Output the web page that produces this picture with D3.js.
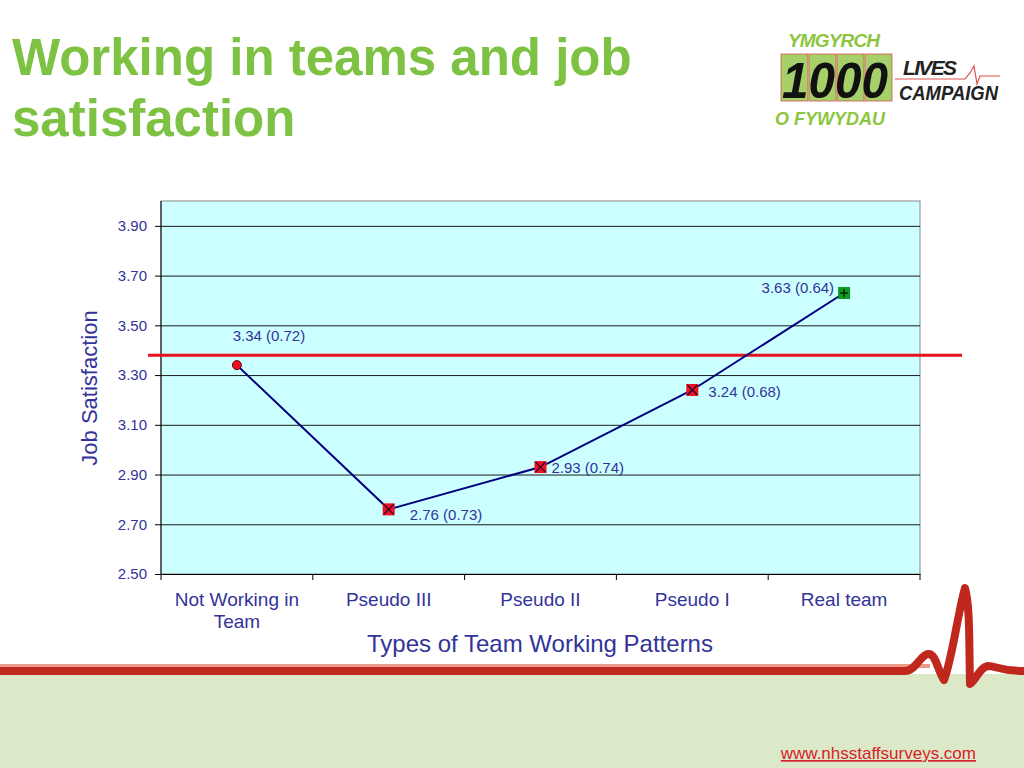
<!DOCTYPE html>
<html lang="en">
<head>
<meta charset="UTF-8">
<title>Working in teams and job satisfaction</title>
<script src="https://cdnjs.cloudflare.com/ajax/libs/d3/7.8.5/d3.min.js"></script>
<style>
  html, body { margin: 0; padding: 0; background: #fff; }
  svg { display: block; font-family: "Liberation Sans", Arial, sans-serif; }
</style>
</head>
<body>
<div id="chart"></div>
<script>
// data
var categories = ["Not Working in Team", "Pseudo III", "Pseudo II", "Pseudo I", "Real team"];
var meanValues = [3.34, 2.76, 2.93, 3.24, 3.63];
var sdValues = [0.72, 0.73, 0.74, 0.68, 0.64];
var yTicks = [2.50, 2.70, 2.90, 3.10, 3.30, 3.50, 3.70, 3.90];
var overallMean = 3.38;

var W = 1024, H = 768;
var plot = { left: 161, right: 920, top: 201, bottom: 574 };
var textBlue = "#333399";

var svg = d3.select("#chart").append("svg")
  .attr("width", W).attr("height", H);

// slide background
svg.append("rect").attr("x", 0).attr("y", 674).attr("width", W).attr("height", H - 674)
  .attr("fill", "#dce9c8");
svg.append("rect").attr("x", 0).attr("y", 664).attr("width", 930).attr("height", 4)
  .attr("fill", "#ec9a8a");
svg.append("path")
  .attr("d", "M0,671 L905,671 C916,671 920,655 928,654 C936,653 938,672 944,680 C952,660 958,612 965,588 C970,606 969,640 970,684 C976,680 980,667 988,666 C996,666 1000,671 1024,671")
  .attr("fill", "none").attr("stroke", "#c0281e").attr("stroke-width", 8)
  .attr("stroke-linejoin", "round").attr("stroke-linecap", "round");

// title
svg.append("text").attr("x", 12).attr("y", 75)
  .attr("font-size", 51).attr("font-weight", "bold").attr("fill", "#7dc242")
  .text("Working in teams and job");
svg.append("text").attr("x", 12).attr("y", 136)
  .attr("font-size", 51).attr("font-weight", "bold").attr("fill", "#7dc242")
  .text("satisfaction");

// logo
var logo = svg.append("g").attr("transform", "translate(780,28)");
logo.append("text").attr("x", 8).attr("y", 19).attr("font-size", 19).attr("font-weight", "bold")
  .attr("font-style", "italic").attr("fill", "#8cc63f").attr("textLength", 92).text("YMGYRCH");
[0, 28, 56, 84].forEach(function (dx) {
  logo.append("rect").attr("x", dx + 1).attr("y", 26).attr("width", 27).attr("height", 47)
    .attr("fill", "#a6d06a").attr("stroke", "#d9534f").attr("stroke-width", 0.8);
});
logo.append("text").attr("x", 2).attr("y", 70).attr("font-size", 50).attr("font-weight", "bold")
  .attr("font-style", "italic").attr("fill", "#111").attr("textLength", 106)
  .attr("lengthAdjust", "spacingAndGlyphs").text("1000");
logo.append("text").attr("x", 123).attr("y", 47).attr("font-size", 21).attr("font-weight", "bold")
  .attr("font-style", "italic").attr("fill", "#222").attr("textLength", 54).text("LIVES");
logo.append("text").attr("x", 119).attr("y", 72).attr("font-size", 21).attr("font-weight", "bold")
  .attr("font-style", "italic").attr("fill", "#222").attr("textLength", 99)
  .attr("lengthAdjust", "spacingAndGlyphs").text("CAMPAIGN");
logo.append("path").attr("d", "M115,51 L185,51 L190,45 L194,38 L197,56 L200,48 L220,48")
  .attr("fill", "none").attr("stroke", "#d9534f").attr("stroke-width", 1.2);
logo.append("text").attr("x", -5).attr("y", 97).attr("font-size", 18).attr("font-weight", "bold")
  .attr("font-style", "italic").attr("fill", "#8cc63f").attr("textLength", 110).text("O FYWYDAU");

// scales
var x = d3.scaleBand().domain(categories).range([plot.left, plot.right]);
var y = d3.scaleLinear().domain([2.5, 4.0]).range([plot.bottom, plot.top]);

// plot area
svg.append("rect").attr("x", plot.left).attr("y", plot.top)
  .attr("width", plot.right - plot.left).attr("height", plot.bottom - plot.top)
  .attr("fill", "#ccffff").attr("stroke", "#888").attr("stroke-width", 1);

// gridlines
svg.append("g").selectAll("line").data(yTicks.slice(1)).enter().append("line")
  .attr("x1", plot.left).attr("x2", plot.right)
  .attr("y1", function (d) { return y(d) + 0.5; }).attr("y2", function (d) { return y(d) + 0.5; })
  .attr("stroke", "#1a1a1a").attr("stroke-width", 1);

// y axis
var yAxis = svg.append("g").attr("transform", "translate(" + plot.left + ",0)")
  .call(d3.axisLeft(y).tickValues(yTicks).tickFormat(d3.format(".2f")).tickSize(6).tickPadding(8));
yAxis.select(".domain").attr("stroke", "#000").attr("d", "M0," + plot.top + "V" + plot.bottom);
yAxis.selectAll(".tick line").attr("stroke", "#000");
yAxis.selectAll(".tick text").attr("fill", textBlue).attr("font-size", 15)
  .attr("font-family", "Liberation Sans, Arial, sans-serif");

// x axis
var xAxis = svg.append("g").attr("transform", "translate(0," + plot.bottom + ")")
  .call(d3.axisBottom(x).tickSize(0).tickFormat(""));
xAxis.select(".domain").attr("stroke", "#000");
var bounds = [plot.left].concat(categories.map(function (c) { return x(c) + x.bandwidth(); }));
xAxis.selectAll(".sep").data(bounds).enter().append("line").attr("class", "sep")
  .attr("x1", function (d) { return d; }).attr("x2", function (d) { return d; })
  .attr("y1", 0).attr("y2", 6).attr("stroke", "#000");

var catLabels = svg.append("g").selectAll("text").data(categories).enter().append("text")
  .attr("x", function (d) { return x(d) + x.bandwidth() / 2; })
  .attr("y", 606).attr("text-anchor", "middle")
  .attr("font-size", 19).attr("fill", textBlue);
catLabels.each(function (d) {
  var t = d3.select(this);
  var lines = d === "Not Working in Team" ? ["Not Working in", "Team"] : [d];
  lines.forEach(function (l, i) {
    t.append("tspan").attr("x", x(d) + x.bandwidth() / 2).attr("dy", i === 0 ? 0 : 22).text(l);
  });
});

// axis titles
svg.append("text").attr("x", 540).attr("y", 652).attr("text-anchor", "middle")
  .attr("font-size", 24).attr("fill", textBlue).text("Types of Team Working Patterns");
svg.append("text").attr("transform", "translate(97,388) rotate(-90)").attr("text-anchor", "middle")
  .attr("font-size", 22).attr("fill", textBlue).text("Job Satisfaction");

// overall mean reference line
svg.append("line").attr("x1", 148).attr("x2", 962)
  .attr("y1", y(overallMean)).attr("y2", y(overallMean))
  .attr("stroke", "#e8121c").attr("stroke-width", 3);

// series line
var cx = function (i) { return x(categories[i]) + x.bandwidth() / 2; };
svg.append("path").datum(meanValues)
  .attr("d", d3.line().x(function (d, i) { return cx(i); }).y(function (d) { return y(d); }))
  .attr("fill", "none").attr("stroke", "#000080").attr("stroke-width", 2);

// markers
meanValues.forEach(function (v, i) {
  var px = cx(i), py = y(v);
  if (i === 0) {
    svg.append("circle").attr("cx", px).attr("cy", py).attr("r", 4.5)
      .attr("fill", "#ee1122").attr("stroke", "#660000").attr("stroke-width", 1);
  } else if (i === meanValues.length - 1) {
    svg.append("rect").attr("x", px - 6).attr("y", py - 6).attr("width", 12).attr("height", 12)
      .attr("fill", "#119922");
    svg.append("path").attr("d", "M" + (px - 4) + "," + py + "H" + (px + 4) + "M" + px + "," + (py - 4) + "V" + (py + 4))
      .attr("stroke", "#002200").attr("stroke-width", 1.3);
  } else {
    svg.append("rect").attr("x", px - 6).attr("y", py - 6).attr("width", 12).attr("height", 12)
      .attr("fill", "#ee1122");
    svg.append("path").attr("d", "M" + (px - 5) + "," + (py - 5) + "L" + (px + 5) + "," + (py + 5) + "M" + (px + 5) + "," + (py - 5) + "L" + (px - 5) + "," + (py + 5))
      .attr("stroke", "#220033").attr("stroke-width", 1.2);
  }
});

// data labels
var labelOffsets = [[32, -24, "middle"], [21, 11, "start"], [11, 6, "start"], [16, 7, "start"], [-10, 0, "end"]];
meanValues.forEach(function (v, i) {
  var o = labelOffsets[i];
  svg.append("text").attr("x", cx(i) + o[0]).attr("y", y(v) + o[1])
    .attr("text-anchor", o[2]).attr("font-size", 15).attr("fill", textBlue)
    .text(v.toFixed(2) + " (" + sdValues[i].toFixed(2) + ")");
});

// footer link
svg.append("text").attr("x", 976).attr("y", 759).attr("text-anchor", "end")
  .attr("font-size", 17).attr("fill", "#d8212a").attr("text-decoration", "underline")
  .text("www.nhsstaffsurveys.com");
</script>
</body>
</html>
